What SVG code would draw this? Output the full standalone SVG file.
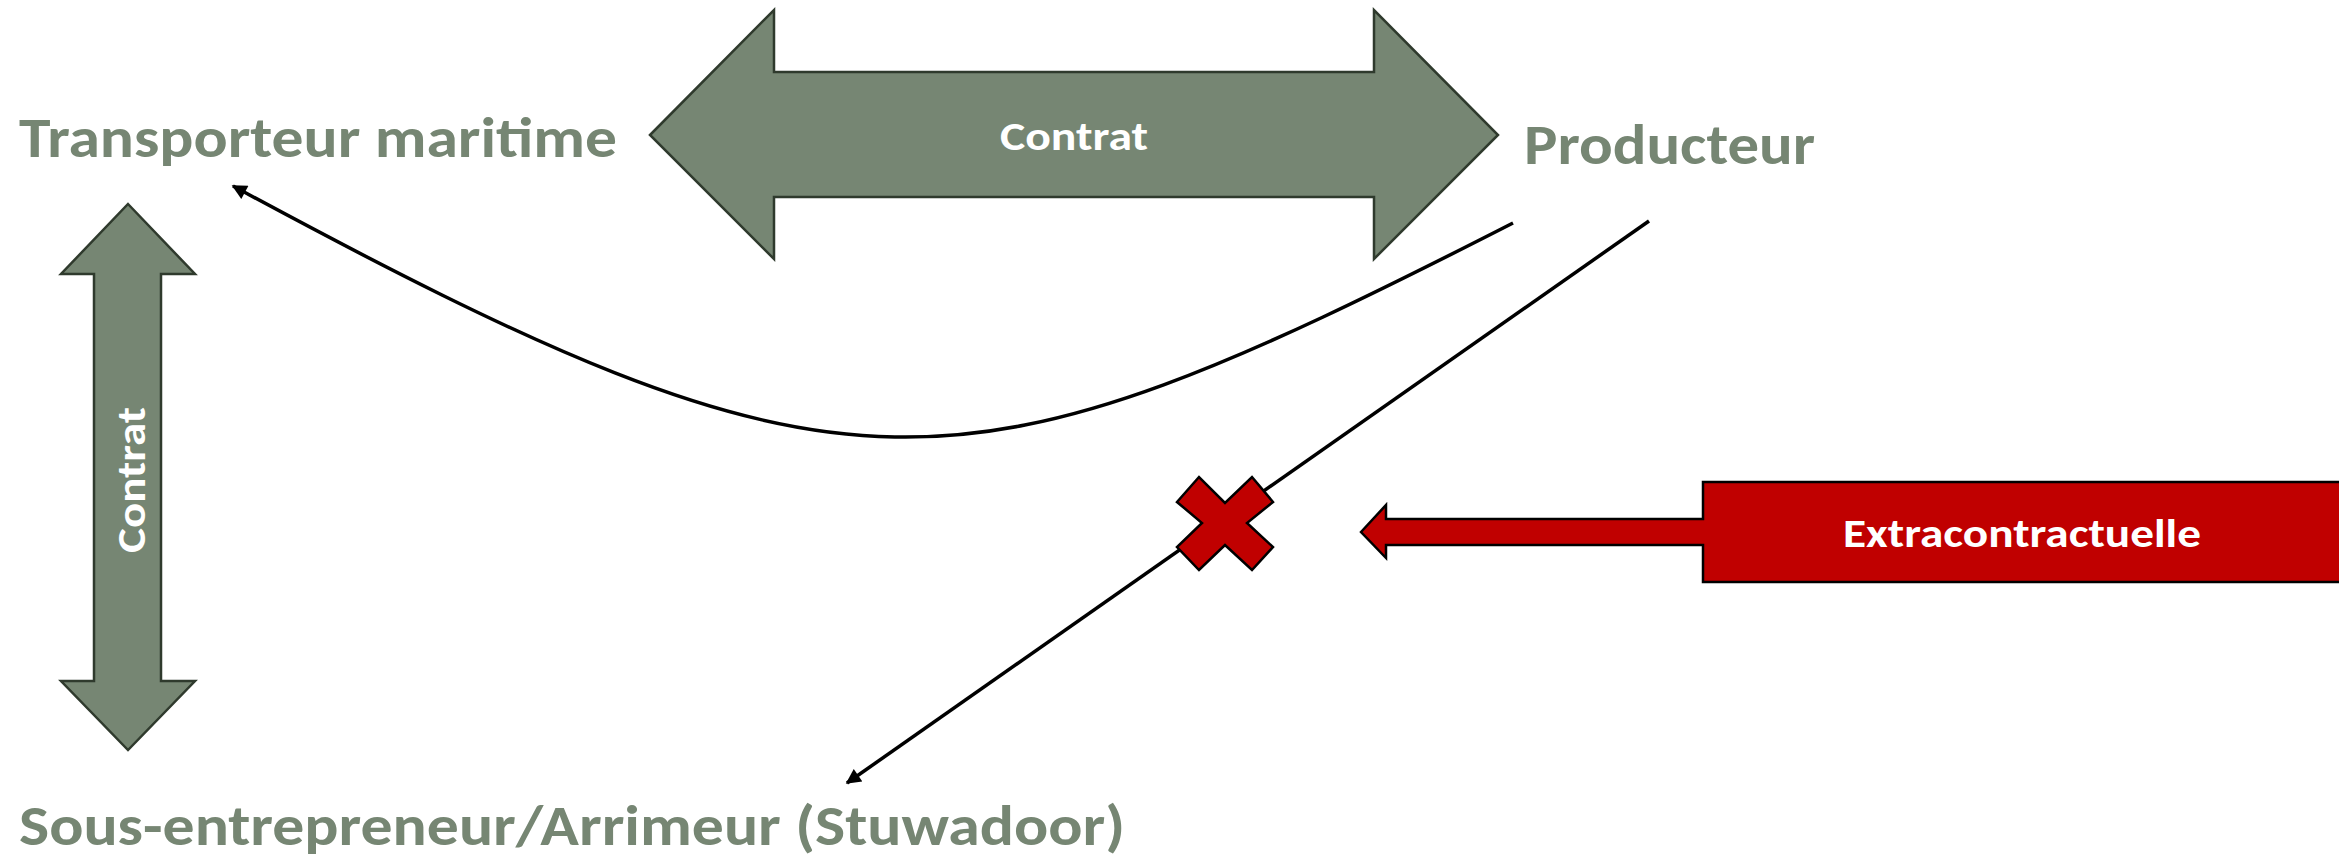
<svg xmlns="http://www.w3.org/2000/svg" width="2339" height="857" viewBox="0 0 2339 857">
  <defs>
    <style>
      .label { font-family: Carlito, Calibri, Lato, "Open Sans", "Liberation Sans", sans-serif; font-weight: bold; }
      .party { fill: #768673; font-size: 56px; }
      .inner { fill: #ffffff; font-size: 40px; text-anchor: middle; }
      .green-arrow { fill: #768673; stroke: #2f3a2d; stroke-width: 2.5; stroke-linejoin: miter; }
      .red-shape { fill: #c00000; stroke: #000000; stroke-width: 2.5; stroke-linejoin: miter; }
      .link { fill: none; stroke: #000000; stroke-width: 3.5; }
    </style>
    <marker id="arrowhead" viewBox="0 0 10 10" refX="9" refY="5" markerUnits="userSpaceOnUse" markerWidth="17" markerHeight="15" orient="auto">
      <path d="M0,0 L10,5 L0,10 z" fill="#000000"/>
    </marker>
  </defs>

  <rect width="2339" height="857" fill="#ffffff"/>

  <!-- Connectors -->
  <g id="connectors">
    <path id="link-producteur-transporteur" class="link" d="M1513,223 C953,509 851,520 233,186" marker-end="url(#arrowhead)"/>
    <path id="link-producteur-arrimeur" class="link" d="M1649,221 L847,783" marker-end="url(#arrowhead)"/>
  </g>

  <!-- Two-way contract arrow between carrier and producer -->
  <g id="contrat-horizontal">
    <polygon class="green-arrow" points="650,135 774,10 774,72 1374,72 1374,10 1498,135 1374,259 1374,197 774,197 774,259"/>
    <text class="label inner" x="1074" y="150" textLength="148" lengthAdjust="spacingAndGlyphs">Contrat</text>
  </g>

  <!-- Two-way contract arrow between carrier and stevedore -->
  <g id="contrat-vertical">
    <polygon class="green-arrow" points="128,204 195,274 161,274 161,681 195,681 128,750 61,681 94,681 94,274 61,274"/>
    <text class="label inner" transform="translate(145,480) rotate(-90)" x="0" y="0" textLength="146" lengthAdjust="spacingAndGlyphs">Contrat</text>
  </g>

  <!-- Parties -->
  <g id="transporteur">
    <text class="label party" x="19" y="157" textLength="598" lengthAdjust="spacingAndGlyphs">Transporteur maritime</text>
  </g>
  <g id="producteur">
    <text class="label party" x="1524" y="164" textLength="291" lengthAdjust="spacingAndGlyphs">Producteur</text>
  </g>
  <g id="arrimeur">
    <text class="label party" x="19" y="845" font-size="54" textLength="1106" lengthAdjust="spacingAndGlyphs">Sous-entrepreneur/Arrimeur (Stuwadoor)</text>
  </g>

  <!-- Broken link marker -->
  <g id="croix">
    <polygon class="red-shape" points="1177,502 1199,477 1225,503 1252,477 1273,502 1247,523 1273,547 1252,570 1225,545 1199,570 1177,547 1202,523"/>
  </g>

  <!-- Non-contractual liability callout -->
  <g id="extracontractuelle">
    <polygon class="red-shape" points="1361,532 1386,505 1386,519 1703,519 1703,482 2345,482 2345,582 1703,582 1703,545 1386,545 1386,558"/>
    <text class="label inner" x="2022" y="547" textLength="358" lengthAdjust="spacingAndGlyphs">Extracontractuelle</text>
  </g>
</svg>
